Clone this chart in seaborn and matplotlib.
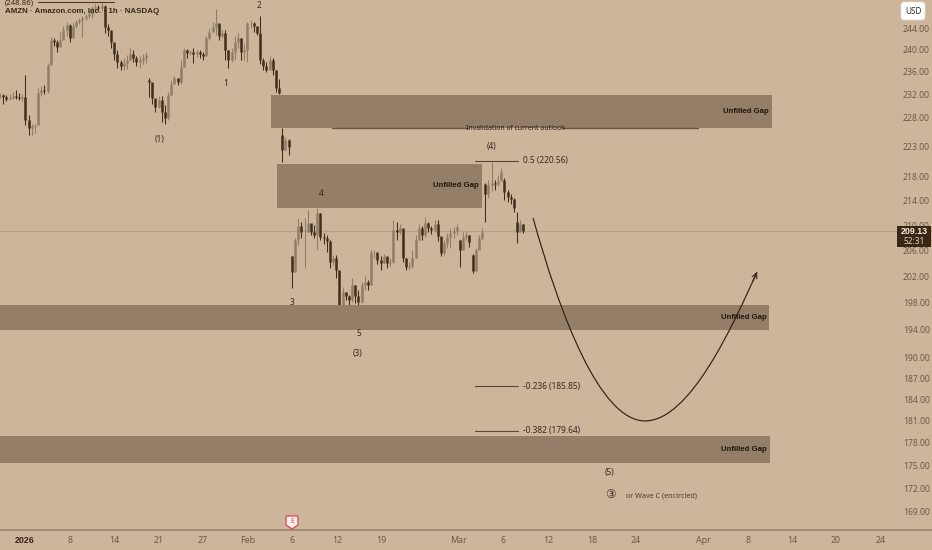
import numpy as np
import pandas as pd
import matplotlib
matplotlib.use("Agg")
import matplotlib.pyplot as plt
import seaborn as sns
from matplotlib.patches import FancyBboxPatch, PathPatch, Polygon, Rectangle
from matplotlib.path import Path
from matplotlib.transforms import IdentityTransform

# hourly candles, one kept every two bars
closes = [231.9, 231.5, 231.2, 231.4, 231.7, 231.5, 231.4, 231.5, 227.5, 226.1, 226.5, 226.6, 232.3, 232.8, 232.6, 237.2,
          241.8, 241.4, 240.5, 241.8, 243.6, 244.6, 242.2, 244.4, 245.1, 245.5, 245.9, 246.3, 246.6, 247.8, 248.0, 247.8,
          248.2, 244.2, 243.6, 241.4, 239.2, 237.7, 237.0, 237.6, 238.1, 239.2, 238.5, 237.7, 238.1, 238.5, 239.0, 234.2,
          231.4, 229.8, 231.0, 228.9, 227.9, 231.9, 233.8, 234.9, 234.2, 236.8, 240.0, 239.4, 239.6, 239.2, 239.6, 239.2,
          238.9, 242.2, 243.2, 244.2, 244.9, 242.5, 243.1, 240.0, 238.1, 239.6, 241.4, 242.2, 239.6, 240.0, 244.9, 244.9,
          244.4, 243.1, 238.1, 237.0, 236.3, 238.1, 236.3, 233.1, 232.3, 222.4, 224.1, 222.9, 202.7, 207.7, 209.9, 209.0,
          209.0, 210.4, 209.0, 208.5, 212.0, 208.2, 208.0, 207.5, 204.3, 204.9, 203.0, 197.6, 199.6, 199.0, 198.4, 200.7,
          199.0, 198.1, 200.7, 201.2, 200.7, 205.8, 205.8, 204.6, 204.1, 205.1, 204.1, 204.3, 209.3, 209.0, 209.6, 204.9,
          203.5, 203.6, 204.9, 207.7, 209.6, 208.5, 210.4, 209.6, 209.3, 210.3, 208.3, 205.6, 207.2, 208.2, 208.8, 209.1,
          209.8, 206.1, 208.2, 208.5, 207.4, 202.9, 206.1, 208.0, 209.0, 215.0, 216.6, 216.9, 216.8, 217.2, 218.7, 215.4,
          214.6, 214.3, 212.8, 209.0, 210.3, 209.13]
highs = [232.3, 232.1, 231.9, 232.1, 232.4, 232.8, 232.3, 232.1, 235.4, 228.4, 226.8, 226.8, 233.1, 233.5, 233.6, 237.6,
         242.3, 242.2, 241.8, 243.2, 244.4, 245.1, 244.8, 245.1, 245.5, 245.9, 246.3, 246.6, 247.4, 248.1, 248.5, 248.3,
         248.7, 248.3, 244.8, 242.9, 240.9, 240.0, 238.1, 238.5, 239.0, 240.4, 240.0, 238.9, 238.9, 239.2, 239.6, 234.9,
         233.1, 231.0, 231.7, 231.7, 230.1, 232.4, 234.5, 235.2, 234.9, 238.1, 240.4, 240.2, 240.0, 240.4, 240.0, 240.0,
         239.6, 242.5, 244.0, 245.1, 247.6, 244.8, 243.6, 243.6, 240.0, 240.4, 242.5, 243.1, 242.2, 241.1, 245.1, 245.5,
         245.1, 244.4, 246.3, 238.5, 237.7, 238.9, 238.5, 236.3, 234.7, 226.1, 224.6, 224.3, 205.1, 208.0, 211.2, 210.6,
         211.2, 212.5, 210.1, 210.1, 212.8, 212.0, 208.8, 208.5, 207.7, 205.3, 205.3, 203.0, 200.4, 199.6, 199.2, 201.8,
         200.7, 199.9, 201.2, 202.1, 201.5, 206.1, 206.1, 205.5, 205.2, 205.5, 204.6, 204.9, 210.9, 210.6, 210.3, 208.2,
         204.9, 204.3, 206.1, 208.5, 210.3, 209.9, 211.4, 210.6, 209.9, 210.9, 210.9, 208.0, 207.7, 208.8, 209.6, 209.8,
         210.3, 207.7, 209.0, 209.0, 208.4, 205.5, 206.4, 208.4, 209.6, 216.9, 217.4, 220.4, 217.4, 218.2, 219.3, 217.7,
         215.8, 215.1, 214.5, 212.2, 210.9, 210.3]
lows = [231.4, 230.3, 230.8, 231.0, 231.2, 231.2, 231.0, 230.8, 226.6, 225.0, 225.0, 225.3, 227.2, 231.7, 232.1, 232.3,
        237.2, 240.7, 239.6, 240.7, 242.5, 242.5, 241.4, 243.6, 244.0, 244.8, 242.3, 245.5, 245.9, 245.9, 247.4, 247.1,
        247.1, 243.1, 242.5, 240.4, 238.1, 236.7, 236.3, 236.3, 236.5, 238.1, 237.7, 237.0, 236.7, 237.4, 237.6, 231.5,
        230.3, 228.9, 229.6, 227.2, 226.8, 227.5, 231.9, 233.8, 233.6, 233.8, 236.8, 238.5, 239.0, 237.6, 238.7, 238.5,
        238.1, 238.9, 241.8, 243.2, 242.7, 241.8, 242.2, 238.1, 236.7, 237.7, 238.1, 240.4, 238.1, 238.1, 237.7, 244.0,
        243.2, 242.7, 237.4, 236.3, 236.0, 236.3, 235.4, 232.4, 232.0, 220.4, 222.4, 221.5, 200.2, 202.7, 206.9, 208.0,
        203.3, 209.0, 208.4, 208.0, 206.1, 207.7, 207.1, 205.8, 203.3, 203.8, 201.8, 197.2, 198.7, 198.4, 197.5, 198.1,
        197.9, 194.2, 197.9, 199.9, 199.9, 201.5, 204.9, 204.0, 203.0, 204.1, 203.3, 203.6, 204.1, 207.7, 208.7, 204.3,
        203.0, 203.0, 203.3, 204.9, 207.7, 207.7, 208.2, 209.0, 208.7, 209.0, 207.5, 205.1, 205.3, 206.4, 206.4, 208.0,
        208.5, 203.4, 206.1, 207.7, 206.6, 202.6, 202.9, 206.1, 207.7, 210.6, 214.5, 215.5, 215.8, 216.4, 217.7, 214.1,
        213.8, 213.5, 212.2, 207.2, 209.6, 208.8]
# candles that open away from the previous close
gap_candles = [47, 89, 92, 145, 149, 153, 159, 163]
gap_opens = [234.5, 225.0, 205.1, 207.7, 205.3, 216.8, 217.4, 210.6]
bars_per_candle = 2

# unfilled gap zones: first bar, last bar, top price, bottom price
gap_start = [170.9, 174.7, 0, 0]
gap_end = [486.8, 303.9, 484.9, 485.5]
gap_top = [231.9, 220.0, 197.6, 179.0]
gap_bottom = [226.1, 212.8, 193.9, 175.3]
gap_label_bar = [484.9, 302.0, 483.6, 483.6]
gap_label_price = [229.0, 216.4, 195.8, 177.1]

# projected path, two bezier pieces as drawn with the path tool
path_bars = [336.1, 353.1, 378.3, 406.7, 435.1, 462.2, 477.3]
path_prices = [211.2, 196.2, 181.0, 181.0, 181.0, 194.7, 202.7]
arrow_from = (474.8, 201.3)

# fib levels
fib_prices = [220.56, 185.85, 179.64]
fib_labels = ["0.5 (220.56)", "-0.236 (185.85)", "-0.382 (179.64)"]
fib_start = 299.5
fib_end = 326.6
invalid_price = 226.1

wave_labels = ["2", "1", "(1)", "3", "4", "5", "(3)", "(4)", "(5)"]
wave_bars = [163.3, 142.5, 100.3, 184.1, 202.4, 226.4, 225.7, 310.2, 384.6]
wave_prices = [248.3, 234.0, 224.1, 198.0, 215.1, 193.5, 190.5, 222.9, 174.0]

price_ticks = [244, 240, 236, 232, 228, 223, 218, 214, 210, 206, 202, 198, 194, 190, 187, 184, 181, 178, 175, 172, 169]
date_labels = ["2026", "8", "14", "21", "27", "Feb", "6", "12", "19", "Mar", "6", "12", "18", "24", "Apr", "8", "14", "20", "24"]
date_bars = [15.8, 44.1, 71.9, 100.3, 128, 156.4, 184.1, 212.5, 240.2, 289.4, 317.2, 345.5, 373.3, 401, 443.3, 471.6, 499.4, 527.1, 555.5]
last_price = 209.13

BG = "#cdb59c"
ZONE = "#957e68"
INK = "#35281a"
UP = "#907d68"
DOWN = "#3f2d1b"
AXIS_TXT = "#6b5948"
BOLD = "Liberation Sans"

sns.set_theme(style="white", rc={"axes.facecolor": BG, "figure.facecolor": BG})
plt.rcParams["font.family"] = ["Noto Sans", "DejaVu Sans"]

opens = [closes[0]] + closes[:-1]
for c, o in zip(gap_candles, gap_opens):
    opens[c] = o
bars = [i * bars_per_candle for i in range(len(closes))]

wicks = pd.DataFrame({
    "bar": bars + bars,
    "price": highs + lows,
    "candle": list(range(len(bars))) * 2,
    "dir": ["up" if c >= o else "down" for c, o in zip(closes, opens)] * 2,
})
bodies = pd.DataFrame({
    "bar": bars + bars,
    "price": opens + closes,
    "candle": list(range(len(bars))) * 2,
    "dir": ["up" if c >= o else "down" for c, o in zip(closes, opens)] * 2,
})

fig = plt.figure(figsize=(9.32, 5.5), dpi=100)
ax = fig.add_axes([0, 20 / 550, 1, 530 / 550])
ax.set_yscale("log")

palette = {"up": UP, "down": DOWN}
sns.lineplot(data=wicks, x="bar", y="price", hue="dir", units="candle", estimator=None, palette=palette,
             sort=False, legend=False, lw=0.75, zorder=2, solid_capstyle="butt", ax=ax)
sns.lineplot(data=bodies, x="bar", y="price", hue="dir", units="candle", estimator=None, palette=palette,
             sort=False, legend=False, lw=1.8, zorder=2, solid_capstyle="butt", ax=ax)

# last price line sits behind the zones
ax.axhline(last_price, color="#b8a083", lw=0.9, zorder=1)

for x0, x1, top, bot in zip(gap_start, gap_end, gap_top, gap_bottom):
    ax.fill_between([x0, x1], [bot, bot], [top, top], color=ZONE, lw=0, zorder=3)
for x, y in zip(gap_label_bar, gap_label_price):
    ax.text(x, y, "Unfilled Gap", ha="right", va="center", fontsize=5.6, fontweight="bold",
            family=BOLD, color="#1f160c", zorder=6)

# wave count
for lab, x, y in zip(wave_labels, wave_bars, wave_prices):
    ax.text(x, y, lab, ha="center", va="center", fontsize=6, color=INK, zorder=6)
ax.text(384.6, 171.1, "③", ha="center", va="center", fontsize=8.5, color=INK, zorder=6)
ax.text(394.7, 170.9, "or Wave C (encircled)", ha="left", va="center", fontsize=5.2, color="#4d3d2c", zorder=6)

# fib levels
for p, lab in zip(fib_prices, fib_labels):
    sns.lineplot(x=[fib_start, fib_end], y=[p, p], color="#5a4734", lw=0.8, zorder=4, ax=ax)
    ax.text(329.8, p, lab, ha="left", va="center", fontsize=6, color=INK, zorder=6)

# invalidation line split around its label
sns.lineplot(x=[209.3, 295.1], y=[invalid_price, invalid_price], color="#6b5540", lw=1.0, zorder=4, ax=ax)
sns.lineplot(x=[355.0, 440.1], y=[invalid_price, invalid_price], color="#6b5540", lw=1.0, zorder=4, ax=ax)
ax.text(325.0, invalid_price, "Invalidation of current outlook", ha="center", va="center", fontsize=4.95, color="#1f160c", zorder=6)

# previous high marker, mostly cut by the top edge
sns.lineplot(x=[24, 72], y=[248.86, 248.86], color="#4a3927", lw=0.8, zorder=4, ax=ax)
ax.text(3, 248.75, "(248.86)", ha="left", va="center", fontsize=5.6, color=INK, zorder=6)

codes = [Path.MOVETO] + [Path.CURVE4] * 6
ax.add_patch(PathPatch(Path(list(zip(path_bars, path_prices)), codes), fc="none", ec="#2f2114", lw=0.85, zorder=5))
ax.annotate("", xy=(path_bars[-1], path_prices[-1]), xytext=arrow_from,
            arrowprops=dict(arrowstyle="->", color="#2f2114", lw=0.8, mutation_scale=9, shrinkA=0, shrinkB=0), zorder=5)

ax.set_xlim(0, 932 / 1.586)
ax.set_ylim(166.6, 249.25)
ax.set_xlabel("")
ax.set_ylabel("")

ax.yaxis.tick_right()
ax.set_yticks(price_ticks, [f"{p:.2f}" for p in price_ticks])
ax.set_yticks([], minor=True)
ax.tick_params(axis="y", which="both", length=0, pad=-20.9, labelsize=6.2, labelcolor=AXIS_TXT)
ax.set_xticks(date_bars, date_labels)
ax.tick_params(axis="x", length=0, pad=4, labelsize=6.4, labelcolor=AXIS_TXT)
ax.get_xticklabels()[0].set_fontweight("bold")
ax.get_xticklabels()[0].set_family(BOLD)
ax.get_xticklabels()[0].set_color("#33261a")

sns.despine(ax=ax, left=True, right=True, top=True)
ax.spines["bottom"].set_color("#a08c74")
ax.spines["bottom"].set_linewidth(1.4)

fig.text(5 / 932, 1 - 11.5 / 550, "AMZN · Amazon.com, Inc. · 1h · NASDAQ", fontsize=5.7, color=INK, family=BOLD,
         fontweight="bold", va="center", zorder=6)

# price tag and currency button, placed in figure pixels
px = IdentityTransform()
fig.add_artist(Rectangle((897, 550 - 247), 34, 21, transform=px, color="#3b2614", lw=0, zorder=5))
fig.text(914 / 932, 1 - 232 / 550, "209.13", color="#f4ece0", fontsize=6.4, fontweight="bold", family=BOLD,
         ha="center", va="center", zorder=6)
fig.text(914 / 932, 1 - 242 / 550, "52:31", color="#e3d6c6", fontsize=6, ha="center", va="center", zorder=6)
fig.add_artist(FancyBboxPatch((901, 550 - 20), 24, 18, boxstyle="round,pad=0,rounding_size=3", transform=px,
                              fc="white", ec="#e8e1d8", lw=0.6, zorder=5))
fig.text(913 / 932, 1 - 11 / 550, "USD", color="#2a2a2a", fontsize=5.8, ha="center", va="center", zorder=6)

# earnings flag
fig.add_artist(Polygon([(286, 550 - 516), (298, 550 - 516), (298, 550 - 525), (292, 550 - 529), (286, 550 - 525)],
                       closed=True, transform=px, fc="#f6eee8", ec="#dd4f5c", lw=1.0, zorder=5))
fig.text(292 / 932, 1 - 521.5 / 550, "E", color="#dd4f5c", fontsize=5, fontweight="bold", ha="center", va="center", zorder=6)

fig.savefig("out.png", dpi=100, facecolor=BG)
